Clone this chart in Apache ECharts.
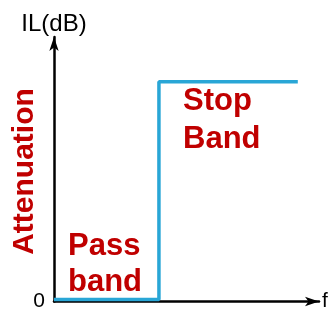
<!DOCTYPE html>
<html><head><meta charset="utf-8">
<script src="https://cdn.jsdelivr.net/npm/echarts@6/dist/echarts.min.js"></script>
<style>html,body{margin:0;padding:0;background:#fff}#c{width:331px;height:312px}</style>
</head><body><div id="c"></div>
<script>
var freq = [0, 3.96, 3.96, 9.2];
var il = [0.08, 0.08, 8.31, 8.31];
var yTicks = ['0'];
var chart = echarts.init(document.getElementById('c'));
var red = '#C00000', blue = '#29A6D6';
var F = 'Liberation Sans';
chart.setOption({
  animation: false,
  grid: {left: 54, right: 12, top: 37, bottom: 10},
  xAxis: {type: 'value', min: 0, max: 10, splitLine: {show: false},
    axisLabel: {show: false}, axisTick: {show: false},
    axisLine: {lineStyle: {color: '#000', width: 2.5}, symbol: ['none', 'arrow'], symbolSize: [7, 14]},
    name: 'f', nameGap: 3, nameTextStyle: {fontFamily: F, fontSize: 21, color: '#000', verticalAlign: 'middle'}},
  yAxis: {type: 'value', min: 0, max: 10, interval: 10, splitLine: {show: false},
    axisTick: {show: false},
    axisLabel: {formatter: function (v) { return v === 0 ? yTicks[0] : ''; }, fontFamily: F, fontSize: 21, color: '#000', margin: 9},
    axisLine: {lineStyle: {color: '#000', width: 2.5}, symbol: ['none', 'arrow'], symbolSize: [7, 14]},
    name: 'IL(dB)', nameGap: 1, nameTextStyle: {fontFamily: F, fontSize: 24, color: '#000', align: 'center'}},
  series: [{type: 'line', data: freq.map(function (f, i) { return [f, il[i]]; }),
    showSymbol: false, lineStyle: {color: blue, width: 3.5}}],
  graphic: [
    {type: 'text', x: 24.5, y: 171.5, rotation: Math.PI / 2, style: {text: 'Attenuation', fill: red, font: 'bold 30px ' + F, textAlign: 'center', textVerticalAlign: 'middle'}},
    {type: 'text', x: 68, y: 228, style: {text: 'Pass\nband', fill: red, font: 'bold 31px ' + F, lineHeight: 36}},
    {type: 'text', x: 183, y: 82, style: {text: 'Stop\nBand', fill: red, font: 'bold 31px ' + F, lineHeight: 38}}
  ]
});
</script></body></html>
